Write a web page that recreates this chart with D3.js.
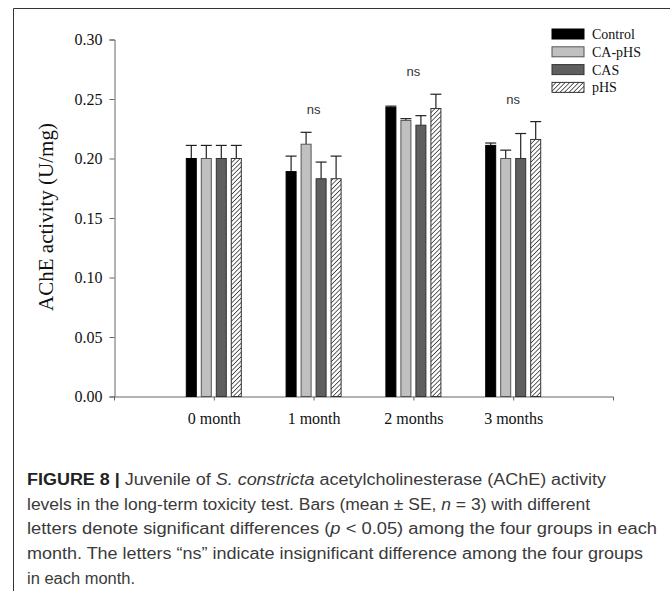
<!DOCTYPE html>
<html>
<head>
<meta charset="utf-8">
<script src="https://cdn.jsdelivr.net/npm/d3@7"></script>
<style>
  html, body { margin: 0; padding: 0; background: #fff; }
  svg { display: block; }
</style>
</head>
<body>
<svg id="chart" width="670" height="591"></svg>
<script>
const months = ["0 month", "1 month", "2 months", "3 months"];
const seriesNames = ["Control", "CA-pHS", "CAS", "pHS"];
const controlMean = [0.200, 0.189, 0.243, 0.211];
const controlSE   = [0.011, 0.013, 0.001, 0.002];
const caphsMean   = [0.200, 0.212, 0.232, 0.200];
const caphsSE     = [0.011, 0.010, 0.0015, 0.007];
const casMean     = [0.200, 0.183, 0.228, 0.200];
const casSE       = [0.011, 0.014, 0.008, 0.021];
const phsMean     = [0.200, 0.183, 0.242, 0.216];
const phsSE       = [0.011, 0.019, 0.012, 0.015];
const sigLabels   = ["", "ns", "ns", "ns"];
const yTicks = [0, 0.05, 0.10, 0.15, 0.20, 0.25, 0.30];
const captionLines = [
  [{t: "FIGURE 8 | ", b: true}, {t: "Juvenile of "}, {t: "S. constricta", i: true}, {t: " acetylcholinesterase (AChE) activity"}],
  [{t: "levels in the long-term toxicity test. Bars (mean \u00b1 SE, "}, {t: "n", i: true}, {t: " = 3) with different"}],
  [{t: "letters denote significant differences ("}, {t: "p", i: true}, {t: " < 0.05) among the four groups in each"}],
  [{t: "month. The letters \u201cns\u201d indicate insignificant difference among the four groups"}],
  [{t: "in each month."}]
];
const captionWidths = [579, 563, 630, 616, 108];

const means = [controlMean, caphsMean, casMean, phsMean];
const ses = [controlSE, caphsSE, casSE, phsSE];
const fills = ["#000000", "#c0c0c0", "#5f5f5f", "url(#hatch)"];
const strokes = ["#000000", "#555555", "#333333", "#333333"];

const svg = d3.select("#chart");
const defs = svg.append("defs");
const pat = defs.append("pattern").attr("id", "hatch")
  .attr("patternUnits", "userSpaceOnUse").attr("width", 3.2).attr("height", 3.2)
  .attr("patternTransform", "rotate(45)");
pat.append("rect").attr("width", 3.2).attr("height", 3.2).attr("fill", "#fff");
pat.append("line").attr("x1", 0).attr("y1", 0).attr("x2", 0).attr("y2", 3.2)
  .attr("stroke", "#111").attr("stroke-width", 1.3);

// frame
svg.append("line").attr("x1", 13.5).attr("x2", 670).attr("y1", 8.5).attr("y2", 8.5).attr("stroke", "#333");
svg.append("line").attr("x1", 13.5).attr("x2", 13.5).attr("y1", 8.5).attr("y2", 591).attr("stroke", "#333");

const x = d3.scalePoint().domain(months).range([114, 613]).padding(1);
const xs = d3.scaleBand().domain(seriesNames).range([-30, 30]).paddingInner(1/3).paddingOuter(1/6);
const y = d3.scaleLinear().domain([0, 0.30]).range([396.5, 39.5]);

const serif = "'Liberation Serif', 'Times New Roman', serif";

// y axis
const yAxis = svg.append("g").attr("transform", "translate(114.5,0)")
  .call(d3.axisLeft(y).tickValues(yTicks).tickFormat(d3.format(".2f")).tickSizeOuter(0).tickSize(5).tickPadding(7));
yAxis.select(".domain").attr("stroke", "#666");
yAxis.selectAll(".tick line").attr("stroke", "#666");
yAxis.selectAll("text").attr("font-family", serif).attr("font-size", 16).attr("fill", "#111");

// x axis
const xAxis = svg.append("g").attr("transform", "translate(0,396.5)")
  .call(d3.axisBottom(x).tickSizeOuter(0).tickSize(4).tickPadding(12));
xAxis.select(".domain").attr("stroke", "#666");
xAxis.selectAll(".tick line").attr("stroke", "#666");
xAxis.selectAll("text").attr("font-family", serif).attr("font-size", 16).attr("fill", "#111");

// y title
svg.append("text").attr("transform", "translate(53,217) rotate(-90)")
  .attr("text-anchor", "middle").attr("font-family", serif).attr("font-size", 21).attr("fill", "#111")
  .text("AChE activity (U/mg)");

// bars
seriesNames.forEach((s, si) => {
  const g = svg.append("g");
  const data = months.map((m, mi) => ({m, v: means[si][mi], e: ses[si][mi]}));
  g.selectAll("line.err").data(data).enter().append("line")
    .attr("x1", d => x(d.m) + xs(s) + xs.bandwidth() / 2)
    .attr("x2", d => x(d.m) + xs(s) + xs.bandwidth() / 2)
    .attr("y1", d => y(d.v)).attr("y2", d => y(d.v + d.e))
    .attr("stroke", "#222").attr("stroke-width", 1.2);
  g.selectAll("line.cap").data(data).enter().append("line")
    .attr("x1", d => x(d.m) + xs(s) + xs.bandwidth() / 2 - 5.5)
    .attr("x2", d => x(d.m) + xs(s) + xs.bandwidth() / 2 + 5.5)
    .attr("y1", d => y(d.v + d.e)).attr("y2", d => y(d.v + d.e))
    .attr("stroke", "#222").attr("stroke-width", 1.2);
  g.selectAll("rect").data(data).enter().append("rect")
    .attr("x", d => x(d.m) + xs(s)).attr("width", xs.bandwidth())
    .attr("y", d => y(d.v)).attr("height", d => y(0) - y(d.v))
    .attr("fill", fills[si]).attr("stroke", strokes[si]).attr("stroke-width", 1);
});

// significance labels
months.forEach((m, mi) => {
  if (!sigLabels[mi]) return;
  const top = d3.max(means.map((arr, si) => arr[mi] + ses[si][mi]));
  svg.append("text").attr("x", x(m)).attr("y", y(top) - 18)
    .attr("text-anchor", "middle").attr("font-family", "'Liberation Sans', Arial, sans-serif")
    .attr("font-size", 13).attr("fill", "#333").text(sigLabels[mi]);
});

// legend
const lg = svg.append("g");
seriesNames.forEach((s, si) => {
  const cy = 34 + si * 17.8;
  lg.append("rect").attr("x", 552).attr("y", cy - 5).attr("width", 32).attr("height", 10)
    .attr("fill", fills[si]).attr("stroke", strokes[si]).attr("stroke-width", 1);
  lg.append("text").attr("x", 592).attr("y", cy + 5)
    .attr("font-family", serif).attr("font-size", 14).attr("fill", "#111").text(s);
});

// caption
const cap = svg.append("g");
captionLines.forEach((parts, li) => {
  const t = cap.append("text").attr("x", 27).attr("y", 485 + li * 24.7)
    .attr("font-family", "'Liberation Sans', Arial, sans-serif").attr("font-size", 16)
    .attr("fill", "#3a3a3a")
    .attr("textLength", captionWidths[li]).attr("lengthAdjust", "spacingAndGlyphs");
  parts.forEach(p => {
    const ts = t.append("tspan").text(p.t);
    if (p.b) ts.attr("font-weight", "bold").attr("fill", "#222");
    if (p.i) ts.attr("font-style", "italic");
  });
});
</script>
</body>
</html>
